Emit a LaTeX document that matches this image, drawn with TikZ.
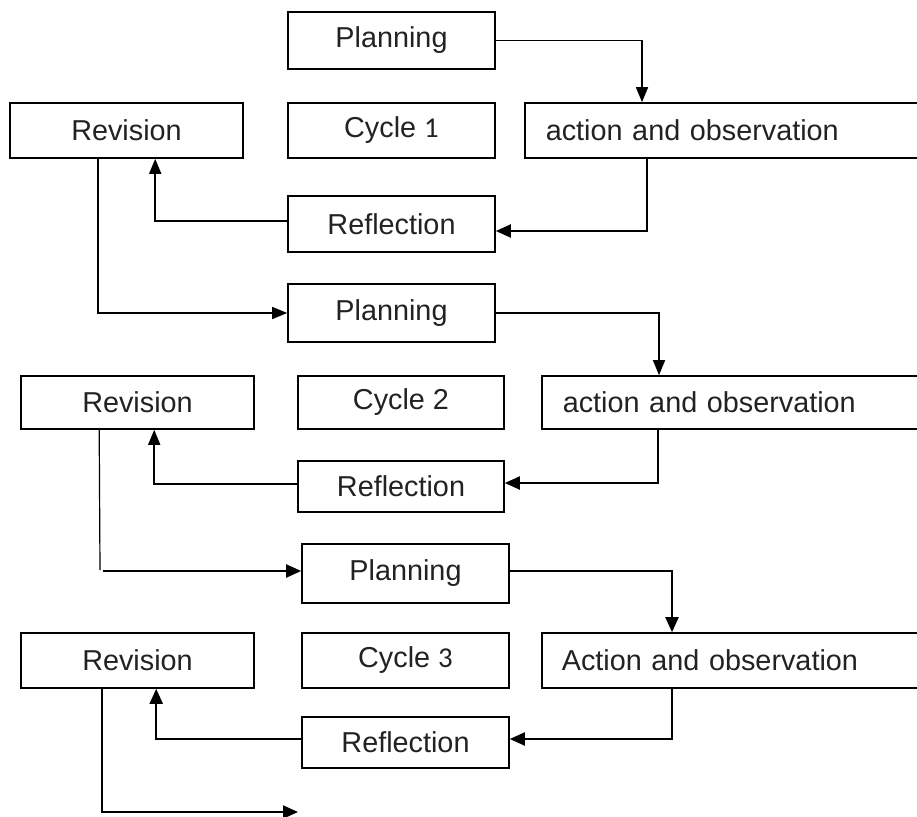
\documentclass[tikz,border=0pt]{standalone}
\usepackage{fontspec}
\setmainfont{Liberation Sans}
\newfontfamily\carl{Carlito}
\usetikzlibrary{arrows.meta,calc}
\definecolor{txt}{HTML}{222222}
\tikzset{
  box/.style={draw=black, line width=1.6pt, text=txt, font=\fontsize{28.8}{33}\selectfont, inner sep=0pt},
  wbox/.style={box, minimum width=#1, minimum height=55pt},
  abox/.style={box, anchor=west, minimum height=55pt, text width=440pt, inner xsep=21pt, align=left},
  arr/.style={line width=1.5pt, -{Triangle[length=15pt,width=12pt]}},
  tarr/.style={line width=2pt, -{Triangle[length=15pt,width=13pt]}},
  ln/.style={line width=1.2pt}
}
\begin{document}
\begin{tikzpicture}[x=1pt,y=-1pt]
\clip (0,0) rectangle (917,816);
% Cycle 1
\node[wbox=207pt, minimum height=57pt] (P1) at (391.5,40.5) {Planning};
\node[wbox=233pt] (R1) at (126.5,130.5) {Revision};
\node[wbox=207pt] (C1) at (391.5,130.5) {Cycle {\carl 1}};
\node[abox] (A1) at (524,130.5) {action and observation};
\node[wbox=207pt, minimum height=56pt] (F1) at (391.5,224) {Reflection};
% Cycle 2
\node[wbox=207pt, minimum height=58pt] (P2) at (391.5,313) {Planning};
\node[wbox=233pt, minimum height=53pt] (R2) at (137.5,402.5) {Revision};
\node[wbox=206pt, minimum height=53pt] (C2) at (401,402.5) {Cycle 2};
\node[abox, minimum height=53pt, inner xsep=21pt] (A2) at (541,402.5) {action and observation};
\node[wbox=206pt, minimum height=51pt] (F2) at (401,486.5) {Reflection};
% Cycle 3
\node[wbox=207pt, minimum height=59pt] (P3) at (405.5,573.5) {Planning};
\node[wbox=233pt] (R3) at (137.5,660.5) {Revision};
\node[wbox=207pt] (C3) at (405.5,660.5) {Cycle {\carl 3}};
\node[abox, inner xsep=20pt] (A3) at (541,660.5) {Action and observation};
\node[wbox=207pt, minimum height=51pt] (F3) at (405.5,742.5) {Reflection};
% loose ends
\coordinate (E2a) at (100,570);
\coordinate (E2b) at (103,571);
\coordinate (E3) at (298,812);
% connectors cycle 1
\draw[arr] (P1.east) -| ($(A1.north west)+(118,0)$);
\draw[tarr] ($(A1.south west)+(123,0)$) |- ($(F1.east)+(0,7)$);
\draw[arr] ($(F1.west)+(0,-3)$) -| ($(R1.south west)+(146,0)$);
\draw[arr] ($(R1.south west)+(89,0)$) |- (P2.west);
% connectors cycle 2
\draw[arr] (P2.east) -| ($(A2.north west)+(118,0)$);
\draw[tarr] ($(A2.south west)+(117,0)$) |- ($(F2.east)+(0,-3.5)$);
\draw[arr] ($(F2.west)+(0,-2.5)$) -| ($(R2.south west)+(134,0)$);
\draw[ln] ($(R2.south west)+(79,0)$) -- (E2a);
\draw[tarr] (E2b) -- (P3.west |- E2b);
% connectors cycle 3
\draw[tarr] ($(P3.east)+(0,-2.5)$) -| ($(A3.north west)+(131,0)$);
\draw[tarr] ($(A3.south west)+(131,0)$) |- ($(F3.east)+(0,-3.5)$);
\draw[tarr] ($(F3.west)+(0,-3.5)$) -| ($(R3.south west)+(136,0)$);
\draw[tarr] ($(R3.south west)+(82,0)$) |- (E3);
\end{tikzpicture}
\end{document}
